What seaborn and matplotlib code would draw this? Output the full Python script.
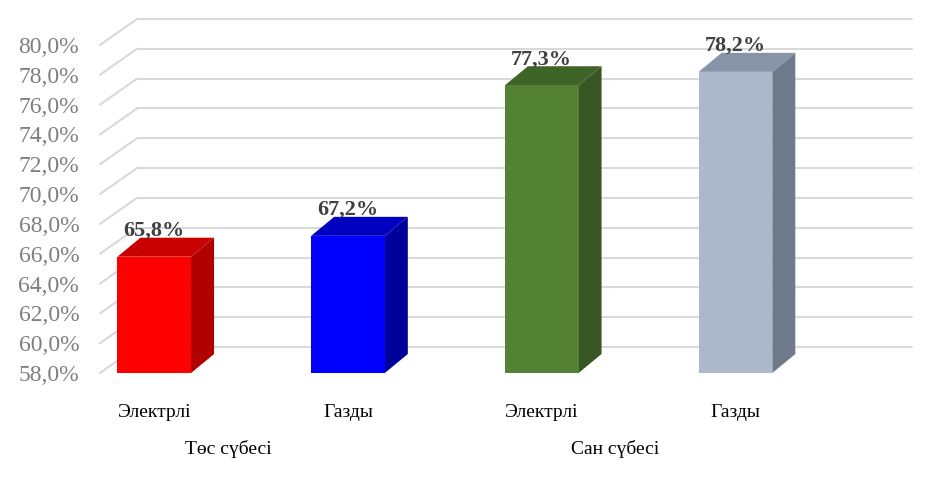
import numpy as np
import pandas as pd
import matplotlib
matplotlib.use('Agg')
import matplotlib.pyplot as plt
from matplotlib.patches import Polygon
import seaborn as sns

# data
categories = ['Электрлі', 'Газды', 'Электрлі ', 'Газды ']
groups = ['Төс сүбесі', 'Төс сүбесі', 'Сан сүбесі', 'Сан сүбесі']
values = [65.8, 67.2, 77.3, 78.2]
front_colors = ['#FF0000', '#0000FF', '#548235', '#ADB9CA']
side_colors = ['#B00000', '#00009A', '#375623', '#6E7B8B']
top_colors = ['#C80000', '#0000C0', '#3F6428', '#8594A6']
y_ticks = np.arange(58, 81, 2)

df = pd.DataFrame({'cat': categories, 'val': values, 'group': groups})

sns.set_style('white')
plt.rcParams['font.family'] = ['Liberation Serif', 'DejaVu Serif']

fig = plt.figure(figsize=(9.32, 4.83), dpi=100)
ax = fig.add_axes([100 / 932, 1 - 373 / 483, 775 / 932, 328 / 483])

sns.barplot(data=df, x='cat', y='val', hue='cat', palette=front_colors,
            width=0.38, legend=False, ax=ax, saturation=1,
            edgecolor='none', linewidth=0)

ax.set_ylim(58, 80)
ax.set_xlim(-0.28, 3.72)
for s in ax.spines.values():
    s.set_visible(False)
ax.set_yticks(y_ticks)
ax.set_yticklabels([f'{t:.1f}%'.replace('.', ',') for t in y_ticks],
                   color='#7F7F7F', fontsize=17)
ax.tick_params(axis='y', length=0, pad=15)
ax.tick_params(axis='x', length=0, pad=22)
ax.set_xticks(range(len(categories)))
ax.set_xticklabels([c.strip() for c in categories], fontsize=14, color='black')
ax.set_xlabel('')
ax.set_ylabel('')
ax.grid(False)

# pixel offsets -> data units
inv = ax.transData.inverted()
o = inv.transform((0, 0))


def px(dx, dy):
    p = inv.transform((dx, dy)) - o
    return p[0], p[1]


# back wall gridlines with diagonal connectors on the left side wall
wdx, wdy = px(37, 26)
x0, x1 = ax.get_xlim()
y0 = ax.get_ylim()[0]
for t in y_ticks:
    ax.plot([x0, x0 + wdx], [t, t + wdy], color='#D9D9D9', lw=1.5,
            clip_on=False, zorder=0)
    ax.plot([x0 + wdx, x1 + wdx], [t + wdy, t + wdy], color='#D9D9D9',
            lw=1.5, clip_on=False, zorder=0)

# 3d side and top faces of the bars
bdx, bdy = px(23, 19)
for i, p in enumerate(ax.patches):
    xl = p.get_x()
    xr = xl + p.get_width()
    yt = p.get_y() + p.get_height()
    yb = max(p.get_y(), y0)
    p.set_zorder(3)
    side = Polygon([(xr, yb), (xr + bdx, yb + bdy), (xr + bdx, yt + bdy), (xr, yt)],
                   closed=True, facecolor=side_colors[i], edgecolor='none',
                   zorder=2, clip_on=False)
    top = Polygon([(xl, yt), (xl + bdx, yt + bdy), (xr + bdx, yt + bdy), (xr, yt)],
                  closed=True, facecolor=top_colors[i], edgecolor='none',
                  zorder=2, clip_on=False)
    ax.add_patch(side)
    ax.add_patch(top)
    ax.annotate(f'{values[i]:.1f}%'.replace('.', ','),
                xy=(xl + p.get_width() / 2, yt + bdy), xytext=(0, 7),
                textcoords='offset pixels', ha='center', va='center',
                fontsize=16, fontweight='bold', color='#404040', zorder=5)

# group labels under the category labels
for g in dict.fromkeys(groups):
    pos = [i for i, gg in enumerate(groups) if gg == g]
    ax.annotate(g, xy=(np.mean(pos) - 0.12, y0), xytext=(0, -76),
                textcoords='offset pixels', xycoords='data',
                ha='center', va='center', fontsize=14, color='black',
                annotation_clip=False)

fig.savefig('out.png', dpi=100)
